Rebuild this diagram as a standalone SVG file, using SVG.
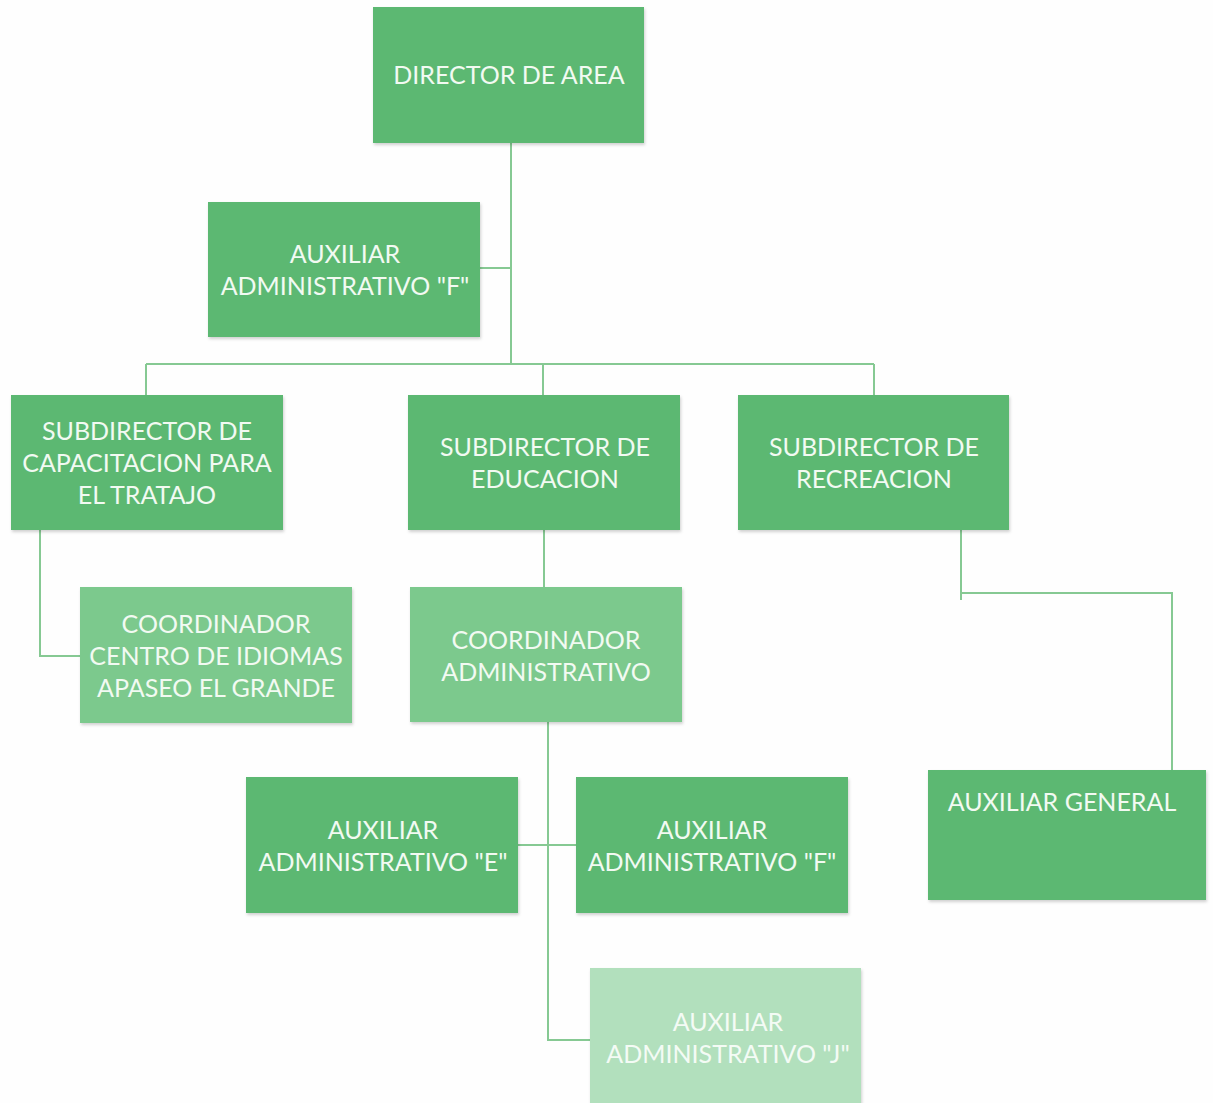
<svg xmlns="http://www.w3.org/2000/svg" width="1213" height="1103" viewBox="0 0 1213 1103">
<defs>
<filter id="sh" x="-5%" y="-5%" width="112%" height="115%">
<feDropShadow dx="1" dy="2" stdDeviation="1.5" flood-color="#000" flood-opacity="0.18"/>
</filter>
<style>
.box{fill:#5cb872;filter:url(#sh)}
.light{fill:#7cc98d}
.pale{fill:#b2e0bd}
.t{font-family:Lato,"Open Sans","Liberation Sans",sans-serif;font-size:25px;fill:#f2faf2;text-anchor:middle}
.tp{fill:#f4fbf5}
.ln{stroke:#86c993;stroke-width:2;fill:none}
</style>
</defs>
<rect width="1213" height="1103" fill="#fefefe"/>
<g id="connectors">
<path class="ln" d="M511 143 V364"/>
<path class="ln" d="M480 268 H511"/>
<path class="ln" d="M146 364 H874"/>
<path class="ln" d="M146 364 V395 M543 364 V395 M874 364 V395"/>
<path class="ln" d="M40 530 V656 H80"/>
<path class="ln" d="M544 530 V587"/>
<path class="ln" d="M548 722 V1040 H590"/>
<path class="ln" d="M518 845 H576"/>
<path class="ln" d="M961 530 V600 M961 593 H1172 V770"/>
</g>
<g id="director">
<rect class="box" x="373" y="7" width="271" height="136"/>
<text class="t" x="509" y="84">DIRECTOR DE AREA</text>
</g>
<g id="aux-f-top">
<rect class="box" x="208" y="202" width="272" height="135"/>
<text class="t" x="345" y="263">AUXILIAR</text>
<text class="t" x="345" y="295">ADMINISTRATIVO "F"</text>
</g>
<g id="sub-capacitacion">
<rect class="box" x="11" y="395" width="272" height="135"/>
<text class="t" x="147" y="440">SUBDIRECTOR DE</text>
<text class="t" x="147" y="472">CAPACITACION PARA</text>
<text class="t" x="147" y="504">EL TRATAJO</text>
</g>
<g id="sub-educacion">
<rect class="box" x="408" y="395" width="272" height="135"/>
<text class="t" x="545" y="456">SUBDIRECTOR DE</text>
<text class="t" x="545" y="488">EDUCACION</text>
</g>
<g id="sub-recreacion">
<rect class="box" x="738" y="395" width="271" height="135"/>
<text class="t" x="874" y="456">SUBDIRECTOR DE</text>
<text class="t" x="874" y="488">RECREACION</text>
</g>
<g id="coord-centro">
<rect class="box light" x="80" y="587" width="272" height="136"/>
<text class="t" x="216" y="633">COORDINADOR</text>
<text class="t" x="216" y="665">CENTRO DE IDIOMAS</text>
<text class="t" x="216" y="697">APASEO EL GRANDE</text>
</g>
<g id="coord-admin">
<rect class="box light" x="410" y="587" width="272" height="135"/>
<text class="t" x="546" y="649">COORDINADOR</text>
<text class="t" x="546" y="681">ADMINISTRATIVO</text>
</g>
<g id="aux-e">
<rect class="box" x="246" y="777" width="272" height="136"/>
<text class="t" x="383" y="839">AUXILIAR</text>
<text class="t" x="383" y="871">ADMINISTRATIVO "E"</text>
</g>
<g id="aux-f">
<rect class="box" x="576" y="777" width="272" height="136"/>
<text class="t" x="712" y="839">AUXILIAR</text>
<text class="t" x="712" y="871">ADMINISTRATIVO "F"</text>
</g>
<g id="aux-j">
<rect class="box pale" x="590" y="968" width="271" height="140"/>
<text class="t tp" x="728" y="1031">AUXILIAR</text>
<text class="t tp" x="728" y="1063">ADMINISTRATIVO "J"</text>
</g>
<g id="aux-general">
<rect class="box" x="928" y="770" width="278" height="130"/>
<text class="t" x="1062" y="811">AUXILIAR GENERAL</text>
</g>
</svg>
